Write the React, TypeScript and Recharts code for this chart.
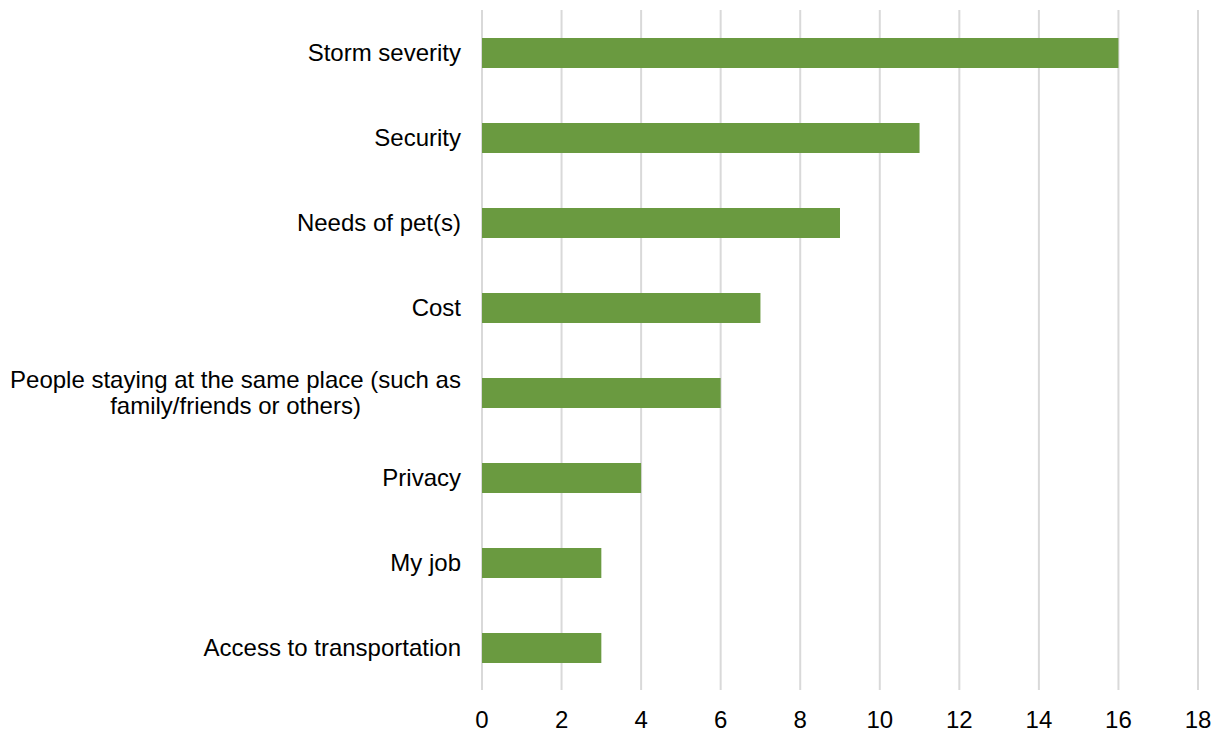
import { Bar, BarChart, CartesianGrid, XAxis, YAxis } from "recharts";

const categories = [
  "Storm severity",
  "Security",
  "Needs of pet(s)",
  "Cost",
  "People staying at the same place (such as|family/friends or others)",
  "Privacy",
  "My job",
  "Access to transportation",
];
const counts = [16, 11, 9, 7, 6, 4, 3, 3];
const xTicks = [0, 2, 4, 6, 8, 10, 12, 14, 16, 18];

const data = categories.map((name, i) => ({ name, value: counts[i] }));

const FONT = "'Liberation Sans', Arial, sans-serif";

function CategoryTick({ x, y, payload }: any) {
  const lines = String(payload.value).split("|");
  if (lines.length === 1) {
    return (
      <text x={x} y={y} dy={8} textAnchor="end" fontSize={24} fontFamily={FONT} fill="#000">
        {lines[0]}
      </text>
    );
  }
  // two-line label: block right-aligned, lines centred on each other
  const blockWidth = 451;
  const cx = x - blockWidth / 2;
  return (
    <text x={cx} y={y} textAnchor="middle" fontSize={24} fontFamily={FONT} fill="#000">
      <tspan x={cx} dy={-5}>{lines[0]}</tspan>
      <tspan x={cx} dy={26}>{lines[1]}</tspan>
    </text>
  );
}

export default function App() {
  return (
    <div style={{ position: "absolute", left: 0, top: 0, background: "#fff" }}>
      <BarChart
        width={1217}
        height={732}
        data={data}
        layout="vertical"
        margin={{ top: 10, right: 19, bottom: 12, left: 0 }}
      >
        <CartesianGrid horizontal={false} stroke="#d9d9d9" strokeWidth={2} />
        <XAxis
          type="number"
          domain={[0, 18]}
          ticks={xTicks}
          axisLine={false}
          tickLine={false}
          height={30}
          tick={{ fontSize: 24, fontFamily: FONT, fill: "#000" }}
          dy={13}
        />
        <YAxis
          type="category"
          dataKey="name"
          width={482}
          axisLine={false}
          tickLine={false}
          interval={0}
          tick={<CategoryTick />}
          tickMargin={15}
        />
        <Bar dataKey="value" fill="#6a9a40" barSize={30} isAnimationActive={false} />
      </BarChart>
    </div>
  );
}
